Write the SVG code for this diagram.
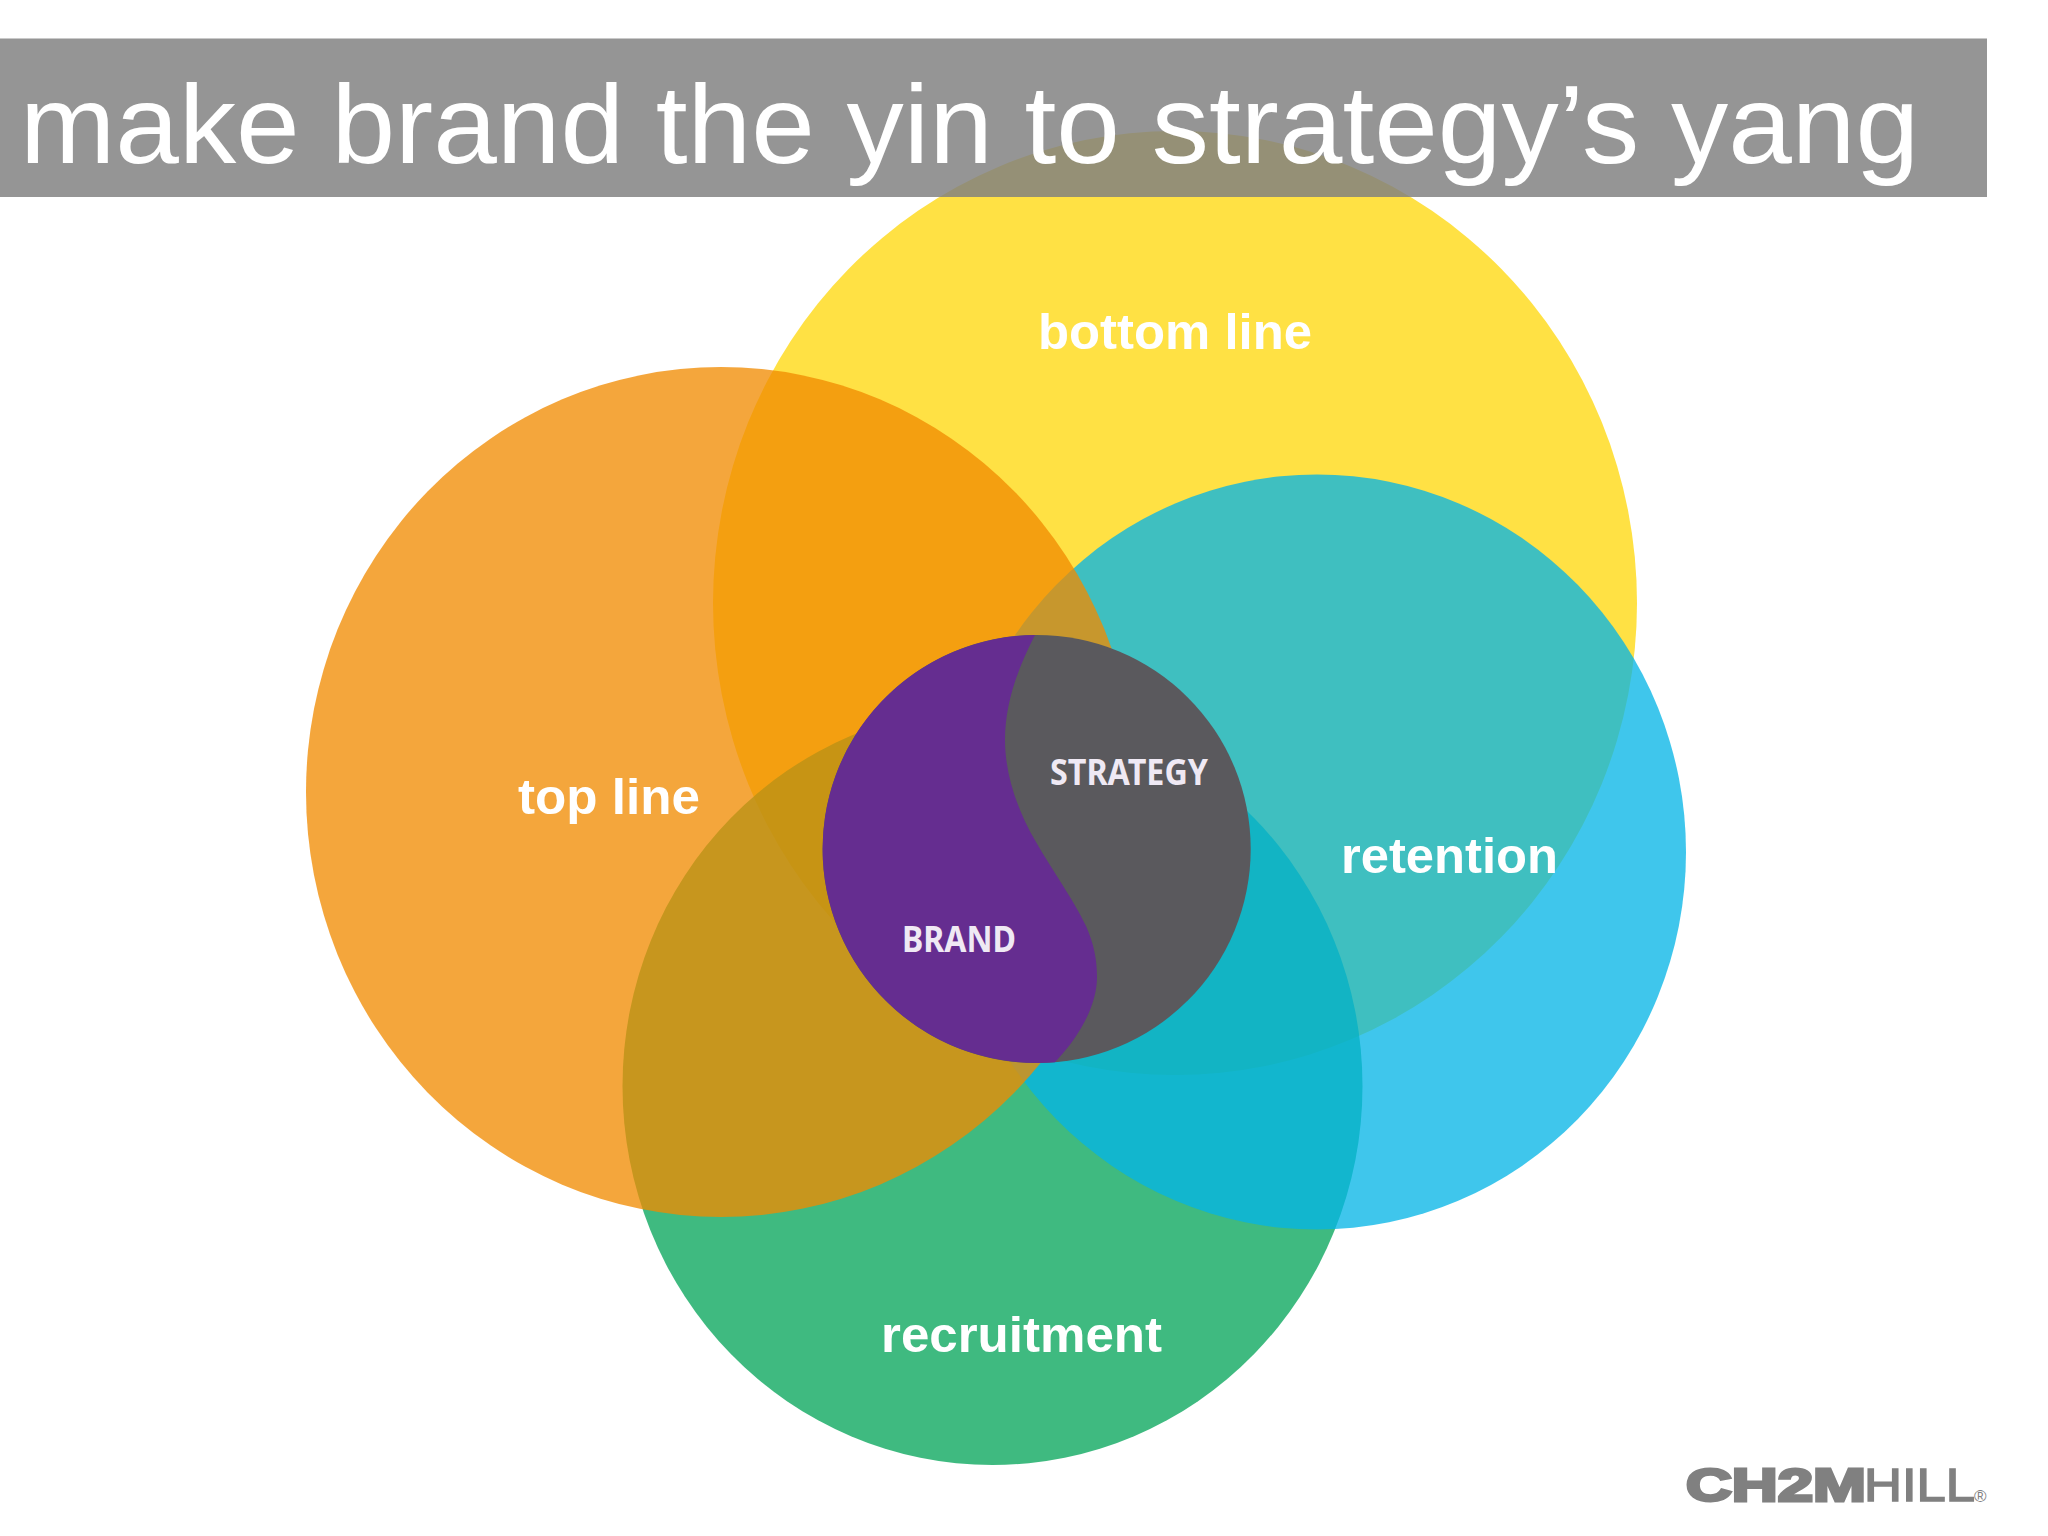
<svg xmlns="http://www.w3.org/2000/svg" width="2048" height="1536" viewBox="0 0 2048 1536">
<style>
.c{fill-opacity:.765}
.l{font-family:"Liberation Sans",Arial,sans-serif;font-weight:700;font-size:50px;fill:#fff}
.i{font-family:"Noto Sans","Open Sans",sans-serif;font-weight:700;font-size:35px;fill:#efe9f4}
.g{font-family:"Liberation Sans",Arial,sans-serif;font-size:46.5px;fill:#808080}
</style>
<rect width="2048" height="1536" fill="#fff"/>
<g id="bottom-line"><ellipse cx="1175" cy="603" rx="462" ry="472" fill="#ffe144"/><text class="l" x="1038" y="349" textLength="274" lengthAdjust="spacingAndGlyphs">bottom line</text></g>
<g id="recruitment"><ellipse class="c" cx="992.5" cy="1086" rx="370" ry="379" fill="#04a559"/><text class="l" x="881" y="1352" textLength="281" lengthAdjust="spacingAndGlyphs">recruitment</text></g>
<g id="retention"><ellipse class="c" cx="1317" cy="852" rx="369" ry="377.5" fill="#04b4e6"/><text class="l" x="1341" y="873" textLength="217" lengthAdjust="spacingAndGlyphs">retention</text></g>
<g id="top-line"><ellipse class="c" cx="721" cy="792" rx="415" ry="425" fill="#f08b00"/><text class="l" x="518" y="814" textLength="182" lengthAdjust="spacingAndGlyphs">top line</text></g>
<g id="yin-yang">
<circle cx="1036.7" cy="849" r="214" fill="#5a595d"/>
<path d="M1035 635C1018 668 1005 703 1005 740C1005 775 1018 812 1036 842C1052 870 1075 902 1086 926C1094 944 1097 960 1097 977C1097 1006 1079 1037 1055 1062.2A214 214 0 1 1 1035 635Z" fill="#652d90"/>
<text class="i" x="1050" y="785" textLength="158" lengthAdjust="spacingAndGlyphs">STRATEGY</text>
<text class="i" x="902" y="952" textLength="114" lengthAdjust="spacingAndGlyphs">BRAND</text>
</g>
<g id="title">
<rect x="0" y="38.5" width="1987" height="158.5" fill="#808080" fill-opacity=".834"/>
<text x="20" y="162.5" font-family="'Liberation Sans',Arial,sans-serif" font-size="112" fill="#fff" textLength="1899" lengthAdjust="spacingAndGlyphs">make brand the yin to strategy’s yang</text>
</g>
<g id="logo">
<text class="g" x="1686" y="1500.5" font-weight="700" stroke="#808080" stroke-width="3" textLength="180" lengthAdjust="spacingAndGlyphs">CH2M</text>
<text class="g" x="1864" y="1500.5" stroke="#808080" stroke-width="1.5" textLength="111" lengthAdjust="spacingAndGlyphs">HILL</text>
<text class="g" x="1974" y="1502" style="font-size:17px">®</text>
</g>
</svg>
